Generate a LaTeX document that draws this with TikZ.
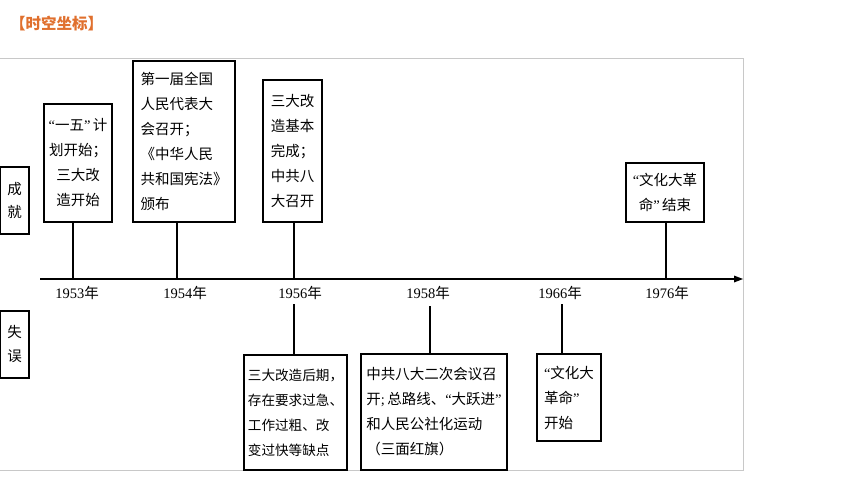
\documentclass[tikz,border=0pt]{standalone}
\usepackage{fontspec}
\setmainfont{Liberation Serif}
\newfontfamily\cjk{Noto Sans CJK SC}
\usepackage{tikz}
\usetikzlibrary{positioning}
\definecolor{titleorange}{RGB}{224,112,46}
\definecolor{framegray}{RGB}{200,200,200}
\newcommand{\qtl}{{\rmfamily “}}
\newcommand{\qtr}{{\rmfamily ”}}

\begin{document}
\begin{tikzpicture}[x=1pt,y=1pt,
  every node/.style={inner sep=0pt, font=\cjk\fontsize{14.5}{25}\selectfont},
  evbox/.style={draw=black, line width=1.6pt, align=left},
  sidebox/.style={draw=black, line width=1.6pt, align=center, minimum width=29pt, minimum height=67pt},
  stem/.style={black, line width=1.4pt},
  yearlbl/.style={font=\rmfamily\fontsize{14.5}{16}\selectfont}]
\useasboundingbox (0,0) rectangle (860,-485);
% title and frame
\node (title) [anchor=west, text=titleorange, font=\cjk\bfseries\fontsize{15.5}{16}\selectfont] at (10,-24) {【时空坐标】};
\draw [framegray, line width=0.9pt] (0,-58) -- (743,-58) -- (743,-470) -- (0,-470);
% time axis
\coordinate (axstart) at (40,-279);
\coordinate (axstop) at (737,-279);
\coordinate (axend) at (743,-279);
\draw [black, line width=1.6pt] (axstart) -- (axstop);
\fill [black] (axend) -- ++(-9,3.5) -- ++(0,-7) -- cycle;
\coordinate (t53) at (73,-279);
\coordinate (t54) at (177,-279);
\coordinate (t56) at (294,-279);
\coordinate (t58) at (430,-279);
\coordinate (t66) at (562,-279);
\coordinate (t76) at (666,-279);
\node (y53) [yearlbl] at (77,-293) {1953{\cjk 年}};
\node (y54) [yearlbl] at (185,-293) {1954{\cjk 年}};
\node (y56) [yearlbl] at (300,-293) {1956{\cjk 年}};
\node (y58) [yearlbl] at (428,-293) {1958{\cjk 年}};
\node (y66) [yearlbl] at (560,-293) {1966{\cjk 年}};
\node (y76) [yearlbl] at (667,-293) {1976{\cjk 年}};
% side labels
\node (cj) [sidebox] at (14.5,-200.5) {成\\[-1pt]就};
\node (sw) [sidebox] at (14.5,-344.5) {失\\[-1pt]误};
% achievements
\node (b53) [evbox, align=center, minimum width=68pt, minimum height=118pt] at (78,-163)
  {\qtl 一五\qtr\,计\\划开始；\\三大改\\造开始};
\node (b54) [evbox, minimum width=102pt, minimum height=161pt] at (184,-141.5)
  {第一届全国\\人民代表大\\会召开；\\《中华人民\\共和国宪法》\\颁布};
\node (b56) [evbox, minimum width=59pt, minimum height=142pt] at (292.5,-151)
  {三大改\\造基本\\完成；\\中共八\\大召开};
\node (b76) [evbox, align=center, minimum width=78pt, minimum height=59pt] at (665,-192.5)
  {\qtl 文化大革\\命\qtr\,结束};
\draw [stem] (t53 |- b53.south) -- (t53);
\draw [stem] (t54 |- b54.south) -- (t54);
\draw [stem] (t56 |- b56.south) -- (t56);
\draw [stem] (t76 |- b76.south) -- (t76);
% mistakes
\node (l56) [evbox, minimum width=103pt, minimum height=115pt, font=\cjk\fontsize{13.6}{25}\selectfont] at (295.5,-412.5)
  {三大改造后期，\\存在要求过急、\\工作过粗、改\\变过快等缺点};
\node (l58) [evbox, minimum width=146pt, minimum height=116pt] at (434,-412)
  {中共八大二次会议召\\开{\rmfamily ;\,}总路线、\qtl 大跃进\qtr\\和人民公社化运动\\（三面红旗）};
\node (l66) [evbox, minimum width=64pt, minimum height=87pt] at (569,-397.5)
  {\qtl 文化大\\革命\qtr\\开始};
\coordinate (s56) at (294,-304);
\coordinate (s58) at (430,-306);
\coordinate (s66) at (562,-304);
\draw [stem] (s56) -- (s56 |- l56.north);
\draw [stem] (s58) -- (s58 |- l58.north);
\draw [stem] (s66) -- (s66 |- l66.north);
\end{tikzpicture}
\end{document}
